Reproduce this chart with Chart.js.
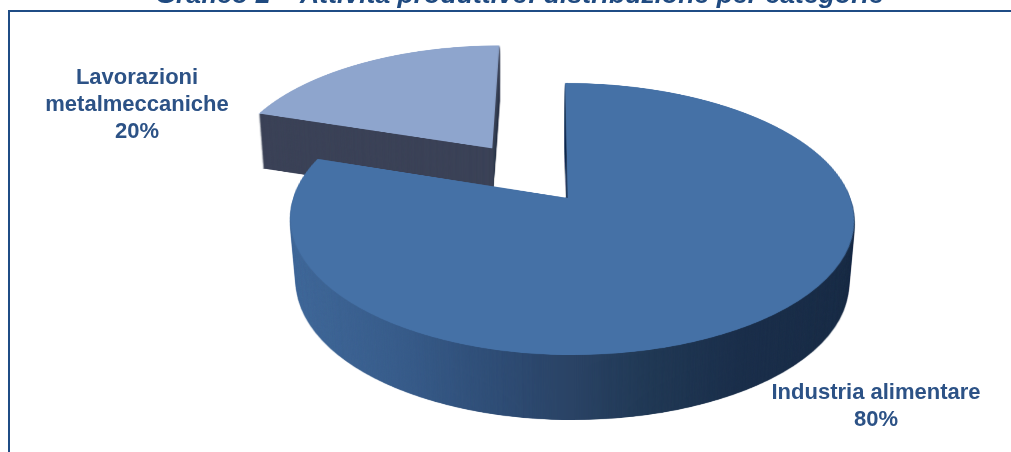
<!DOCTYPE html>
<html>
<head>
<meta charset="utf-8">
<title>Grafico 2</title>
<script src="https://cdn.jsdelivr.net/npm/chart.js@4"></script>
<style>
  html, body { margin: 0; padding: 0; background: #fff; overflow: hidden; }
  canvas { display: block; }
</style>
</head>
<body>
<canvas id="chart" width="1011" height="452"></canvas>
<script>
'use strict';

const chartTitle = 'Grafico 2 – Attività produttive: distribuzione per categorie';
const categories = ['Industria alimentare', ['Lavorazioni', 'metalmeccaniche']];
const shares = [80, 20];
const faceColors = ['#4571a6', '#8ea5cd'];
const exploded = [0, 0.49];
const wallDepth = [65, 55];
const wallCenterX = [572, 490];
const labelSpots = [{ x: 876, y: 393 }, { x: 137, y: 78 }];

const W = 1011;
const H = 452;

// perspective of the disc plane: x' = x0 + half * u / w, y' = y0 + tall * v / w, w = 1 + bend * v
const view = { x0: 568, y0: 198, tall: 132.8, bend: -0.1544, left: 275, right: 282.6, skew: 3 };

// flat copy of the pie is drawn big, then pasted row by row through the perspective
const FLAT_R = 500;
const FLAT_C = 750;

function rowToV(y) {
  const t = (y - view.y0) / view.tall;
  return t / (1 - view.bend * t);
}

function flatSlice(el, explode) {
  const flat = document.createElement('canvas');
  flat.width = flat.height = FLAT_C * 2;
  const fctx = flat.getContext('2d');
  const mid = (el.startAngle + el.endAngle) / 2;
  fctx.translate(FLAT_C + Math.cos(mid) * explode * FLAT_R, FLAT_C + Math.sin(mid) * explode * FLAT_R);
  fctx.scale(FLAT_R / el.outerRadius, FLAT_R / el.outerRadius);
  fctx.translate(-el.x, -el.y);
  el.draw(fctx);
  return flat;
}

function warpSlice(flat) {
  const out = document.createElement('canvas');
  out.width = W;
  out.height = H;
  const octx = out.getContext('2d');
  octx.imageSmoothingQuality = 'high';
  for (let y = 0; y < H; y++) {
    const v = rowToV(y);
    const vNext = rowToV(y + 1);
    if (Math.abs(v) > 1.49) {
      continue;
    }
    const w = 1 + view.bend * v;
    const sy = FLAT_C + v * FLAT_R;
    const sh = (vNext - v) * FLAT_R;
    const mx = view.x0 + view.skew * v / w;
    const lk = view.left / w / FLAT_R;
    const rk = view.right / w / FLAT_R;
    // the two halves overlap a little so no seam shows down the middle
    octx.drawImage(flat, 0, sy, FLAT_C + 5, sh, mx - FLAT_C * lk, y, (FLAT_C + 5) * lk, 1);
    octx.drawImage(flat, FLAT_C - 5, sy, FLAT_C + 5, sh, mx - 5 * rk, y, (FLAT_C + 5) * rk, 1);
  }
  return out;
}

function wallFill(ctx, index) {
  if (index === 1) {
    return '#3b4257';
  }
  const grad = ctx.createLinearGradient(290, 0, 854, 0);
  grad.addColorStop(0, '#41699a');
  grad.addColorStop(0.2, '#385c8a');
  grad.addColorStop(0.37, '#2f4d75');
  grad.addColorStop(0.5, '#2a4365');
  grad.addColorStop(0.64, '#213955');
  grad.addColorStop(0.8, '#1b2f4b');
  grad.addColorStop(1, '#1a2d47');
  return grad;
}

function wallSprite(face, index) {
  const wall = document.createElement('canvas');
  wall.width = W;
  wall.height = H;
  const wctx = wall.getContext('2d');
  wctx.drawImage(face, 0, 0);
  wctx.globalCompositeOperation = 'source-in';
  wctx.fillStyle = wallFill(wctx, index);
  wctx.fillRect(0, 0, W, H);
  return wall;
}

const tiltedPie = {
  id: 'tiltedPie',
  beforeDraw(chart) {
    const ctx = chart.ctx;
    ctx.save();
    ctx.fillStyle = '#1f4c85';
    ctx.fillRect(8, 10, W - 8, 2);
    ctx.fillRect(8, 10, 2, H - 10);
    ctx.restore();
  },
  beforeDatasetsDraw(chart) {
    const ctx = chart.ctx;
    const arcs = chart.getDatasetMeta(0).data;
    // small slice first, the big one overlaps its wall
    [1, 0].forEach(i => {
      const face = warpSlice(flatSlice(arcs[i], exploded[i]));
      const wall = wallSprite(face, i);
      for (let d = wallDepth[i]; d > 0; d--) {
        // the wall narrows slightly towards its base
        const s = 1 - d * 0.00033;
        ctx.drawImage(wall, wallCenterX[i] * (1 - s), d, W * s, H);
      }
      ctx.drawImage(face, 0, 0);
    });
    return false;
  },
  afterDraw(chart) {
    const ctx = chart.ctx;
    ctx.save();
    ctx.font = 'bold 22px "Liberation Sans"';
    ctx.fillStyle = '#2c5286';
    ctx.textAlign = 'center';
    ctx.textBaseline = 'middle';
    categories.forEach((cat, i) => {
      const lines = [].concat(cat, shares[i] + '%');
      lines.forEach((line, n) => ctx.fillText(line, labelSpots[i].x, labelSpots[i].y + n * 27));
    });
    ctx.restore();
  }
};

new Chart(document.getElementById('chart'), {
  type: 'pie',
  data: {
    labels: categories,
    datasets: [{ data: shares, backgroundColor: faceColors, borderWidth: 0 }]
  },
  options: {
    responsive: false,
    animation: false,
    events: [],
    layout: { padding: { left: 28 } },
    plugins: {
      legend: { display: false },
      tooltip: { enabled: false },
      title: {
        display: true,
        text: chartTitle,
        color: '#1f4a80',
        font: { family: '"Liberation Sans"', size: 26.6, weight: 'bold', style: 'italic' },
        padding: { top: -20, bottom: 0 }
      }
    }
  },
  plugins: [tiltedPie]
});
</script>
</body>
</html>
